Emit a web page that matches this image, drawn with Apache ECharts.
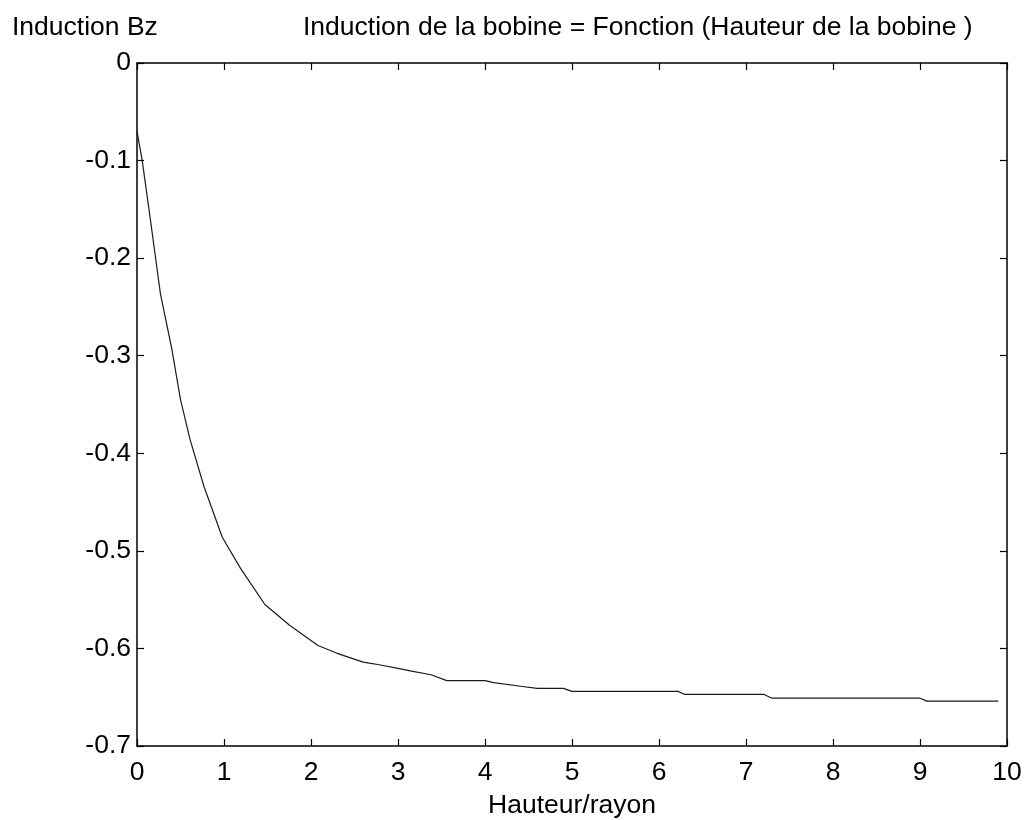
<!DOCTYPE html>
<html>
    <head>
        <meta charset="utf-8">
        <script src="https://cdn.jsdelivr.net/npm/echarts@6/dist/echarts.min.js"></script>
        <style>
            html, body, #main {
                width: 100%;
                height: 100%;
                margin: 0;
                background: #fff;
            }
        </style>
    </head>
    <body>
        <div id="main"></div>
        <script>
            // Hauteur/rayon (x) and induction Bz (y)
            var hauteur = [
                0, 0.06, 0.15, 0.27, 0.4, 0.5, 0.61, 0.77, 0.98, 1.19,
                1.47, 1.75, 2.08, 2.3, 2.6, 2.8, 3.03, 3.14, 3.38, 3.56,
                4.0, 4.1, 4.43, 4.6, 4.9, 5.0, 6.22, 6.29, 7.2, 7.3,
                9.0, 9.08, 9.9
            ];
            var inductionBz = [
                -0.07, -0.1, -0.158, -0.237, -0.293, -0.345, -0.386, -0.434, -0.486, -0.518,
                -0.555, -0.576, -0.597, -0.605, -0.614, -0.617, -0.621, -0.623, -0.627, -0.633,
                -0.633, -0.635, -0.639, -0.641, -0.641, -0.644, -0.644, -0.647, -0.647, -0.651,
                -0.651, -0.654, -0.654
            ];

            var titleText = 'Induction de la bobine = Fonction (Hauteur de la bobine )';
            var yName = 'Induction Bz';
            var xName = 'Hauteur/rayon';

            var font = '"Liberation Sans", Arial, sans-serif';
            var fontSize = 26.5;

            var data = hauteur.map(function (h, i) {
                return [h, inductionBz[i]];
            });

            var chart = echarts.init(document.getElementById('main'));

            // box drawn by four axes, ticks pointing inwards (matlab style)
            var boxLine = { show: true, onZero: false, lineStyle: { color: '#000', width: 1.5 } };
            var inTick = { show: true, inside: true, length: 7, lineStyle: { color: '#000', width: 1.2 } };
            var txt = { fontFamily: font, fontSize: fontSize, fontWeight: 'normal', color: '#000' };

            chart.setOption({
                backgroundColor: '#fff',
                animation: false,
                title: [{
                    text: yName,
                    left: 12,
                    top: 14,
                    padding: 0,
                    textStyle: txt
                }, {
                    text: titleText,
                    left: 303,
                    top: 14,
                    padding: 0,
                    textStyle: txt
                }],
                grid: {
                    left: 137,
                    right: 17,
                    top: 63,
                    bottom: 74,
                    outerBoundsMode: 'none'
                },
                xAxis: [{
                    type: 'value',
                    position: 'bottom',
                    min: 0,
                    max: 10,
                    interval: 1,
                    axisLine: boxLine,
                    axisTick: inTick,
                    splitLine: { show: false },
                    axisLabel: { fontFamily: font, fontSize: fontSize, color: '#000', margin: 13 },
                    name: xName,
                    nameLocation: 'middle',
                    nameGap: 46,
                    nameTextStyle: { fontFamily: font, fontSize: fontSize, color: '#000' }
                }, {
                    type: 'value',
                    position: 'top',
                    min: 0,
                    max: 10,
                    interval: 1,
                    axisLine: boxLine,
                    axisTick: inTick,
                    splitLine: { show: false },
                    axisLabel: { show: false }
                }],
                yAxis: [{
                    type: 'value',
                    position: 'left',
                    min: -0.7,
                    max: 0,
                    interval: 0.1,
                    axisLine: boxLine,
                    axisTick: inTick,
                    splitLine: { show: false },
                    axisLabel: { fontFamily: font, fontSize: fontSize, color: '#000', margin: 6 }
                }, {
                    type: 'value',
                    position: 'right',
                    min: -0.7,
                    max: 0,
                    interval: 0.1,
                    axisLine: boxLine,
                    axisTick: inTick,
                    splitLine: { show: false },
                    axisLabel: { show: false }
                }],
                series: [{
                    type: 'line',
                    xAxisIndex: 0,
                    yAxisIndex: 0,
                    data: data,
                    showSymbol: false,
                    lineStyle: { color: '#1a1a1a', width: 1.2 }
                }]
            });
        </script>
    </body>
</html>
